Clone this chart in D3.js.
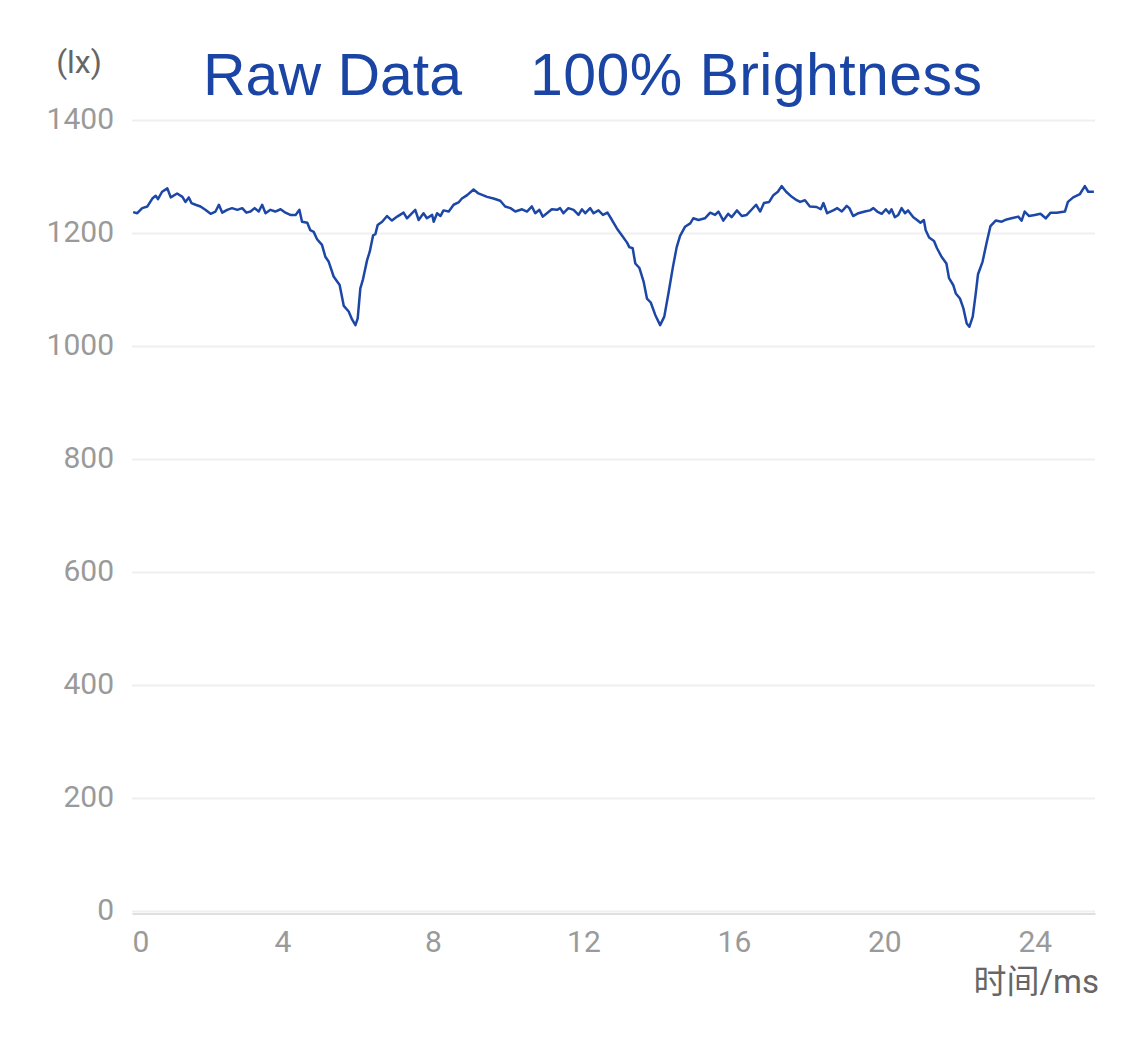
<!DOCTYPE html>
<html><head><meta charset="utf-8">
<script src="https://cdn.jsdelivr.net/npm/d3@7"></script>
<style>body{margin:0;background:#fff} svg{display:block}</style>
</head><body><svg id="c" width="1125" height="1040"></svg>
<script>
// ---- data (time in ms, illuminance in lx) ----
const timeMs = [0.03,0.14,0.27,0.41,0.54,0.63,0.69,0.80,0.94,1.03,1.20,1.34,1.42,1.51,1.58,1.69,1.82,1.95,2.09,2.22,2.31,2.40,2.53,2.66,2.80,2.93,3.04,3.15,3.26,3.37,3.46,3.55,3.68,3.81,3.95,4.08,4.21,4.35,4.45,4.52,4.66,4.74,4.83,4.92,5.05,5.14,5.23,5.36,5.52,5.63,5.76,5.85,5.94,6.00,6.07,6.14,6.25,6.32,6.41,6.47,6.53,6.65,6.78,6.91,7.05,7.22,7.31,7.40,7.53,7.62,7.75,7.84,7.98,8.02,8.11,8.20,8.28,8.42,8.55,8.68,8.77,8.91,9.08,9.21,9.44,9.61,9.79,9.92,10.06,10.19,10.37,10.50,10.63,10.72,10.83,10.92,11.03,11.16,11.30,11.38,11.47,11.60,11.74,11.87,11.96,12.05,12.18,12.27,12.40,12.52,12.64,12.76,12.89,13.02,13.16,13.22,13.31,13.38,13.49,13.60,13.69,13.79,13.91,14.04,14.15,14.26,14.38,14.48,14.57,14.70,14.84,14.92,15.06,15.23,15.37,15.50,15.59,15.72,15.85,15.94,16.08,16.21,16.34,16.48,16.59,16.70,16.80,16.94,17.05,17.17,17.27,17.39,17.54,17.67,17.76,17.89,18.02,18.20,18.31,18.38,18.48,18.64,18.75,18.87,19.00,19.07,19.17,19.31,19.48,19.62,19.71,19.81,19.93,20.04,20.13,20.19,20.28,20.37,20.46,20.55,20.63,20.77,20.87,20.96,21.05,21.10,21.19,21.32,21.40,21.52,21.65,21.72,21.83,21.90,22.01,22.10,22.19,22.26,22.35,22.43,22.49,22.61,22.72,22.82,22.96,23.12,23.25,23.38,23.56,23.65,23.73,23.85,24.00,24.15,24.29,24.42,24.58,24.80,24.88,25.02,25.20,25.33,25.42,25.57];
const lux = [1237,1235,1244,1247,1261,1266,1260,1273,1279,1263,1270,1264,1255,1263,1253,1250,1247,1241,1234,1238,1250,1236,1241,1244,1241,1244,1236,1238,1244,1238,1250,1235,1241,1238,1242,1236,1232,1232,1241,1220,1218,1205,1202,1189,1179,1158,1149,1123,1108,1071,1061,1047,1037,1049,1102,1118,1152,1167,1196,1198,1214,1220,1230,1222,1229,1236,1226,1232,1241,1223,1235,1226,1232,1220,1235,1230,1240,1238,1250,1254,1261,1267,1277,1270,1264,1261,1257,1247,1244,1238,1242,1238,1247,1235,1241,1229,1235,1242,1241,1244,1235,1244,1241,1232,1242,1235,1244,1235,1240,1232,1236,1223,1208,1196,1183,1175,1173,1146,1138,1114,1084,1077,1055,1037,1052,1093,1140,1175,1195,1211,1217,1226,1223,1226,1236,1232,1238,1222,1234,1228,1240,1230,1232,1242,1250,1238,1253,1255,1267,1273,1283,1273,1264,1258,1255,1258,1247,1246,1242,1253,1235,1240,1244,1238,1248,1244,1230,1235,1238,1240,1244,1238,1234,1242,1235,1242,1228,1232,1244,1235,1240,1228,1223,1218,1223,1205,1192,1186,1173,1158,1146,1120,1108,1093,1084,1067,1040,1034,1052,1093,1127,1149,1183,1212,1222,1220,1224,1226,1229,1222,1238,1230,1232,1234,1226,1236,1236,1238,1255,1263,1269,1283,1273,1273];
const yTicks = [0,200,400,600,800,1000,1200,1400];
const xTicks = [0,4,8,12,16,20,24];
const xMax = 25.6;
const titleLeft = "Raw Data";
const titleRight = "100% Brightness";
const yUnit = "(lx)";
const xName = "时间/ms";

const svg = d3.select("#c");
const L = 132, R = 1095, T = 120, B = 911;
const x = d3.scaleLinear().domain([0, xMax]).range([L, R]);
const y = d3.scaleLinear().domain([0, 1400]).range([B, T]);
const labelFont = "Roboto, 'Liberation Sans', sans-serif";

// grid lines
const grid = svg.append("g").attr("transform", `translate(${L},0)`)
  .call(d3.axisLeft(y).tickValues(yTicks).tickSize(-(R - L)).tickFormat(""));
grid.select(".domain").remove();
grid.selectAll(".tick line").attr("stroke", "#efefef").attr("stroke-width", 2);

// bottom axis line
svg.append("g").attr("transform", `translate(0,${B + 2.5})`)
  .call(d3.axisBottom(x).tickValues([]).tickSizeOuter(0))
  .select(".domain").attr("stroke", "#d4d4d4").attr("stroke-width", 1.5);

// y labels
const ya = svg.append("g").attr("transform", `translate(${L},0)`)
  .call(d3.axisLeft(y).tickValues(yTicks).tickFormat(d3.format("d")).tickSize(0).tickPadding(18));
ya.select(".domain").remove();
ya.selectAll("text").attr("fill", "#9a9a9a").attr("font-size", 30)
  .attr("font-family", labelFont).attr("dy", 8).attr("dominant-baseline", "auto");

// x labels
const xa = svg.append("g").attr("transform", `translate(0,${B})`)
  .call(d3.axisBottom(x).tickValues(xTicks).tickFormat(d3.format("d")).tickSize(0).tickPadding(0));
xa.select(".domain").remove();
xa.selectAll("text").attr("fill", "#9a9a9a").attr("font-size", 30)
  .attr("font-family", labelFont).attr("dy", 0).attr("y", 41)
  .attr("dominant-baseline", "auto")
  .attr("text-anchor", (d, i) => i === 0 ? "start" : "middle");

// line
const line = d3.line().x((d, i) => x(timeMs[i])).y(d => y(d));
svg.append("path").datum(lux).attr("d", line)
  .attr("fill", "none").attr("stroke", "#1d47a6").attr("stroke-width", 2.5)
  .attr("stroke-linejoin", "round");

// titles and names
svg.append("text").attr("x", 203).attr("y", 95).text(titleLeft)
  .attr("font-family", "'Liberation Sans', Arial, sans-serif").attr("font-size", 59).attr("fill", "#1b45a4");
svg.append("text").attr("x", 530).attr("y", 95).text(titleRight)
  .attr("font-family", "'Liberation Sans', Arial, sans-serif").attr("font-size", 59).attr("fill", "#1b45a4")
  .attr("textLength", 452).attr("lengthAdjust", "spacing");
svg.append("text").attr("x", 79).attr("y", 73).attr("text-anchor", "middle").text(yUnit)
  .attr("font-family", labelFont).attr("font-size", 32).attr("fill", "#666");
svg.append("text").attr("x", 1099).attr("y", 993).attr("text-anchor", "end").text(xName)
  .attr("font-family", "Roboto, 'Noto Sans CJK SC', sans-serif").attr("font-size", 33).attr("fill", "#666");
</script></body></html>
